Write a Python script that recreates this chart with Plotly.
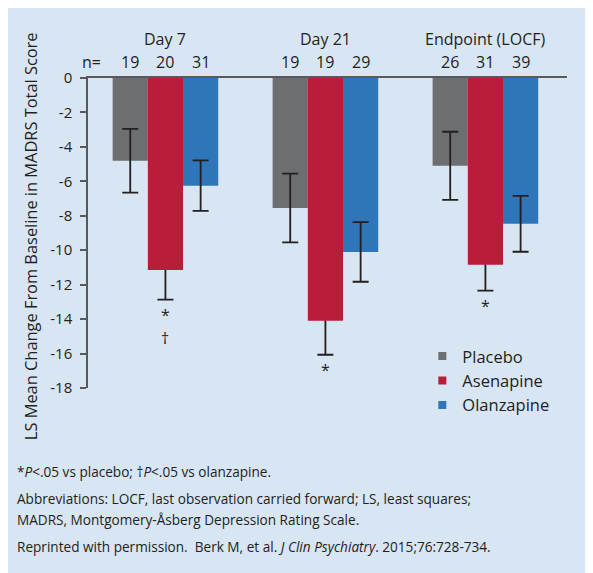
import plotly.graph_objects as go

# ---- data ----
timepoints = ["Day 7", "Day 21", "Endpoint (LOCF)"]
placebo = [-4.8, -7.55, -5.1]
placebo_err = [1.85, 2.0, 1.98]
asenapine = [-11.15, -14.1, -10.85]
asenapine_err = [1.72, 1.97, 1.5]
olanzapine = [-6.25, -10.1, -8.47]
olanzapine_err = [1.47, 1.73, 1.62]
n_placebo = [19, 19, 26]
n_asenapine = [20, 19, 31]
n_olanzapine = [31, 29, 39]
sig_star = ["*", "*", "*"]
sig_dagger = ["†", "", ""]
y_ticks = [0, -2, -4, -6, -8, -10, -12, -14, -16, -18]
y_ticktext = ["0", "-2", "-4", "-6", "-8", "-10", "-12", "-14", "-16", "-18"]

# ---- styles ----
C_PLA = "#6d6e71"
C_ASE = "#b81e3a"
C_OLA = "#2f75ba"
BG = "#d8e5f2"
TXT = "#231f20"
AX = "#58595b"
FONT = "Open Sans"
BW = 0.22
OFF = {"pla": -0.33, "ase": -0.11, "ola": 0.11}
idx = list(range(len(timepoints)))

fig = go.Figure()

err_style = dict(type="data", color=TXT, thickness=1.8, width=8)

# asenapine error bars drawn beneath its bars (only the lower half shows)
fig.add_trace(go.Bar(x=idx, y=asenapine, width=BW, offset=OFF["ase"],
                     marker=dict(color="rgba(0,0,0,0)", line=dict(width=0)),
                     error_y=dict(array=asenapine_err, **err_style),
                     showlegend=False, hoverinfo="skip"))
fig.add_trace(go.Bar(x=idx, y=placebo, width=BW, offset=OFF["pla"],
                     marker=dict(color=C_PLA, line=dict(width=0)),
                     error_y=dict(array=placebo_err, **err_style),
                     showlegend=False, name="Placebo"))
fig.add_trace(go.Bar(x=idx, y=asenapine, width=BW, offset=OFF["ase"],
                     marker=dict(color=C_ASE, line=dict(width=0)),
                     showlegend=False, name="Asenapine"))
fig.add_trace(go.Bar(x=idx, y=olanzapine, width=BW, offset=OFF["ola"],
                     marker=dict(color=C_OLA, line=dict(width=0)),
                     error_y=dict(array=olanzapine_err, **err_style),
                     showlegend=False, name="Olanzapine"))

# legend entries (small squares)
for name, col in [("Placebo", C_PLA), ("Asenapine", C_ASE), ("Olanzapine", C_OLA)]:
    fig.add_trace(go.Scatter(x=[None], y=[None], mode="markers", name=name,
                             marker=dict(symbol="square", size=8, color=col)))

annotations = []
# group titles and n values
for i, tp in enumerate(timepoints):
    annotations.append(dict(x=i, y=1.125, xref="x", yref="paper", text=tp,
                            showarrow=False, font=dict(size=16, color=TXT, family=FONT),
                            yanchor="middle"))
    for key, nvals in [("pla", n_placebo), ("ase", n_asenapine), ("ola", n_olanzapine)]:
        annotations.append(dict(x=i + OFF[key] + BW / 2, y=1.05, xref="x", yref="paper",
                                text=str(nvals[i]), showarrow=False,
                                font=dict(size=16, color=TXT, family=FONT), yanchor="middle"))
annotations.append(dict(x=0 + OFF["pla"] + BW / 2 - 0.24, y=1.05, xref="x", yref="paper",
                        text="n=", showarrow=False,
                        font=dict(size=16, color=TXT, family=FONT), yanchor="middle"))

# significance marks under asenapine error bars
for i in idx:
    low = asenapine[i] - asenapine_err[i]
    annotations.append(dict(x=i + OFF["ase"] + BW / 2, y=low, xref="x", yref="y",
                            text=sig_star[i], showarrow=False, yanchor="top", yshift=-2,
                            font=dict(size=16, color=TXT, family=FONT)))
    if sig_dagger[i]:
        annotations.append(dict(x=i + OFF["ase"] + BW / 2, y=low, xref="x", yref="y",
                                text=sig_dagger[i], showarrow=False, yanchor="top", yshift=-25,
                                font=dict(size=16, color=TXT, family=FONT)))

# y-axis title
annotations.append(dict(x=-0.121, y=0.49, xref="paper", yref="paper",
                        text="LS Mean Change From Baseline in MADRS Total Score",
                        textangle=-90, showarrow=False, xanchor="center", yanchor="middle",
                        font=dict(size=16.4, color=TXT, family=FONT)))

# footnotes
foot = [
    ("*<i>P</i><.05 vs placebo; †<i>P</i><.05 vs olanzapine.", -0.268),
    ("Abbreviations: LOCF, last observation carried forward; LS, least squares;", -0.355),
    ("MADRS, Montgomery-Åsberg Depression Rating Scale.", -0.423),
    ("Reprinted with permission.  Berk M, et al. <i>J Clin Psychiatry</i>. 2015;76:728-734.", -0.51),
]
for txt, yy in foot:
    annotations.append(dict(x=-0.152, y=yy, xref="paper", yref="paper", text=txt,
                            xanchor="left", yanchor="middle", align="left", showarrow=False,
                            font=dict(size=13.6, color=TXT, family=FONT)))

fig.update_layout(
    width=585, height=565,
    margin=dict(l=80, r=26, t=70, b=185),
    paper_bgcolor=BG, plot_bgcolor="rgba(0,0,0,0)",
    barmode="overlay",
    font=dict(family=FONT, color=TXT),
    annotations=annotations,
    legend=dict(x=0.698, y=0.023, xanchor="left", yanchor="middle",
                bgcolor="rgba(0,0,0,0)", font=dict(size=16.5, color=TXT, family=FONT),
                tracegroupgap=0, itemwidth=30),
    xaxis=dict(range=[-0.484, 2.51], side="top", showline=True, linecolor=AX, linewidth=1.5,
               showticklabels=False, ticks="", showgrid=False, zeroline=False,
               type="linear", fixedrange=True),
    yaxis=dict(range=[-18, 0], tickvals=y_ticks, ticktext=y_ticktext, showline=True,
               linecolor=AX, linewidth=1.5, ticks="outside", ticklen=6, tickwidth=1.5,
               tickcolor=AX, showgrid=False, zeroline=False, ticklabelstandoff=5,
               tickfont=dict(size=15, color=TXT, family=FONT)),
)

fig.write_html("out.html")
